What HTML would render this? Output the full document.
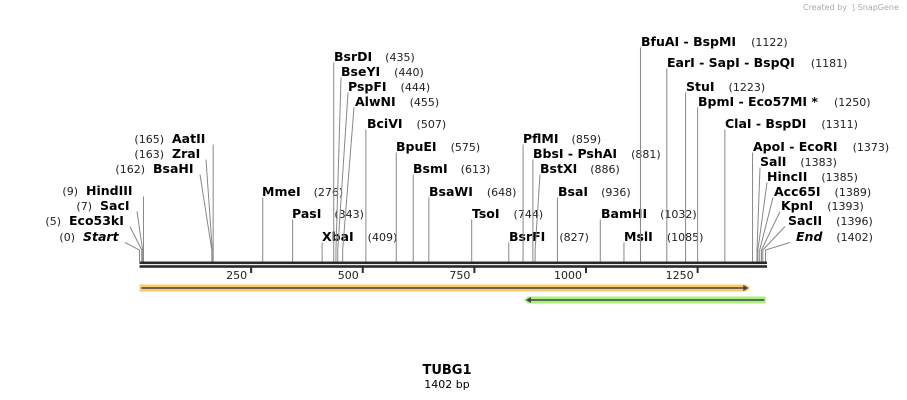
<!DOCTYPE html>
<html><head><meta charset="utf-8"><style>
html,body{margin:0;padding:0;background:#fff;width:907px;height:400px;overflow:hidden}
svg text{font-family:"DejaVu Sans","Liberation Sans",sans-serif}
</style></head><body>
<svg id="map" width="907" height="400" xmlns="http://www.w3.org/2000/svg">
<text x="847" y="10" font-size="8" fill="#aaa" text-anchor="end">Created by</text>
<text x="852" y="10" font-size="8" fill="#aaa">⟆ SnapGene</text>
<g id="features"></g>
<g id="backbone"></g>
<g id="sites"></g>
<text x="447" y="374" font-size="13" font-weight="bold" text-anchor="middle" fill="#000">TUBG1</text>
<text x="447" y="388" font-size="11" text-anchor="middle" fill="#000">1402 bp</text>
</svg>
<script>
const seqLength = 1402;
const tickValues = [250, 500, 750, 1000, 1250];
const siteNames = ["Start","Eco53kI","SacI","HindIII","BsaHI","ZraI","AatII","MmeI","PasI","XbaI","BsrDI","BseYI","PspFI","AlwNI","BciVI","BpuEI","BsmI","BsaWI","TsoI","BsrFI","PflMI","BbsI  - PshAI","BstXI","BsaI","BamHI","MslI","BfuAI  - BspMI","EarI  - SapI  - BspQI","StuI","BpmI  - Eco57MI *","ClaI  - BspDI","ApoI  - EcoRI","SalI","HincII","Acc65I","KpnI","SacII","End"];
const sitePositions = [0,5,7,9,162,163,165,276,343,409,435,440,444,455,507,575,613,648,744,827,859,881,886,936,1032,1085,1122,1181,1223,1250,1311,1373,1383,1385,1389,1393,1396,1402];
const featureStarts = [1, 862];
const featureEnds = [1368, 1402];
const featureDirections = [1, -1];

// layout (not data)
const labelX = [83,69,100,86,153,172,172,262,292,322,334,341,348,355,367,396,413,429,472,509,523,533,540,558,601,624,641,667,686,698,725,753,760,767,774,781,788,796];
const labelY = [237,221,206,191,169,154,139,192,214,237,57,72,87,102,124,147,169,192,214,237,139,154,169,192,214,237,42,63,87,102,124,147,162,177,192,206,221,237];
const numGap = [0,0,0,0,0,0,0,13,13,14,13,14,14,14,14,14,13,14,14,14,13,14,13,13,13,14,15,16,14,16,15,15,14,14,14,14,14,14];
const leftSide = [0,1,2,3,4,5,6];
const anchorX = {0:125,1:130,2:137,4:200,5:206,11:341,12:348,13:354,22:540,32:760,33:767,34:773,35:780,36:785,37:790};

const NS = "http://www.w3.org/2000/svg";
const X0 = 139.5, X1 = 765.5, BY = 261.5;
function xScale(p){ return X0 + (X1 - X0) * p / seqLength; }
function mk(tag, attrs, parent){ const e = document.createElementNS(NS, tag); for (const k in attrs) e.setAttribute(k, attrs[k]); parent.appendChild(e); return e; }

const bb = document.getElementById('backbone');
const l1 = mk('rect', {x: X0, y: 261.5, width: X1 - X0 + 1.5, height: 2.6, fill: '#2a2a2a'}, bb);


const l2 = mk('rect', {x: X0, y: 265.2, width: X1 - X0 + 1.5, height: 2.6, fill: '#2a2a2a'}, bb);


tickValues.forEach(v => {
  const x = xScale(v);
  const t = mk('rect', {x: x - 1, y: 266, width: 2, height: 7, fill: '#2a2a2a'}, bb);
  
  
  const tl = mk('text', {x: x - 4, y: 279, 'font-size': 11, 'text-anchor': 'end', fill: '#222'}, bb);
  tl.textContent = v;
  
  
});

const fg = document.getElementById('features');
const fillCols = ['#fbc86a', '#a8f07c'];
featureStarts.forEach((s, i) => {
  const y = 288 + i * 12;
  const xa = xScale(s - 1), xb = xScale(featureEnds[i]);
  const g = mk('g', {}, fg);
  
  
  let pts;
  if (featureDirections[i] > 0) pts = `${xa},${y-3.5} ${xb-4},${y-3.5} ${xb},${y} ${xb-4},${y+3.5} ${xa},${y+3.5}`;
  else pts = `${xa+4},${y-3.5} ${xb},${y-3.5} ${xb},${y+3.5} ${xa+4},${y+3.5} ${xa},${y}`;
  mk('polygon', {points: pts, fill: fillCols[i]}, g);
  if (featureDirections[i] > 0) {
    mk('line', {x1: xa + 2, y1: y, x2: xb - 5, y2: y, stroke: '#444', 'stroke-width': 1.6}, g);
    mk('polygon', {points: `${xb-7},${y-3} ${xb-2},${y} ${xb-7},${y+3}`, fill: '#444'}, g);
  } else {
    mk('line', {x1: xa + 5, y1: y, x2: xb - 1, y2: y, stroke: '#444', 'stroke-width': 1.6}, g);
    mk('polygon', {points: `${xa+7},${y-3} ${xa+2},${y} ${xa+7},${y+3}`, fill: '#444'}, g);
  }
});

const sg = document.getElementById('sites');
siteNames.forEach((name, i) => {
  const p = sitePositions[i];
  const sx = xScale(p);
  const g = mk('g', {}, sg);
  
  
  const isLeft = leftSide.includes(i);
  const ly = labelY[i];
  const italic = (name === 'Start' || name === 'End');
  const ax = (i in anchorX) ? anchorX[i] : sx;
  const ay = ly + 5.5;
  const pts = `${ax},${ay} ${sx},${i in anchorX ? 250 : ay} ${sx},${BY}`;
  mk('polyline', {points: pts, fill: 'none', stroke: '#888', 'stroke-width': 1}, g);
  const nm = mk('text', {x: labelX[i], y: ly + 4, 'font-size': 12.5, 'font-weight': 'bold', fill: '#000', 'xml:space': 'preserve'}, g);
  if (italic) nm.setAttribute('font-style', 'italic');
  nm.textContent = name;
  const num = mk('text', {y: ly + 4, 'font-size': 11, fill: '#222'}, g);
  num.textContent = '(' + p + ')';
  if (isLeft) {
    num.setAttribute('x', labelX[i] - 8);
    num.setAttribute('text-anchor', 'end');
  } else {
    const w = nm.getComputedTextLength();
    num.setAttribute('x', labelX[i] + w + numGap[i]);
  }
});
</script>
</body></html>
